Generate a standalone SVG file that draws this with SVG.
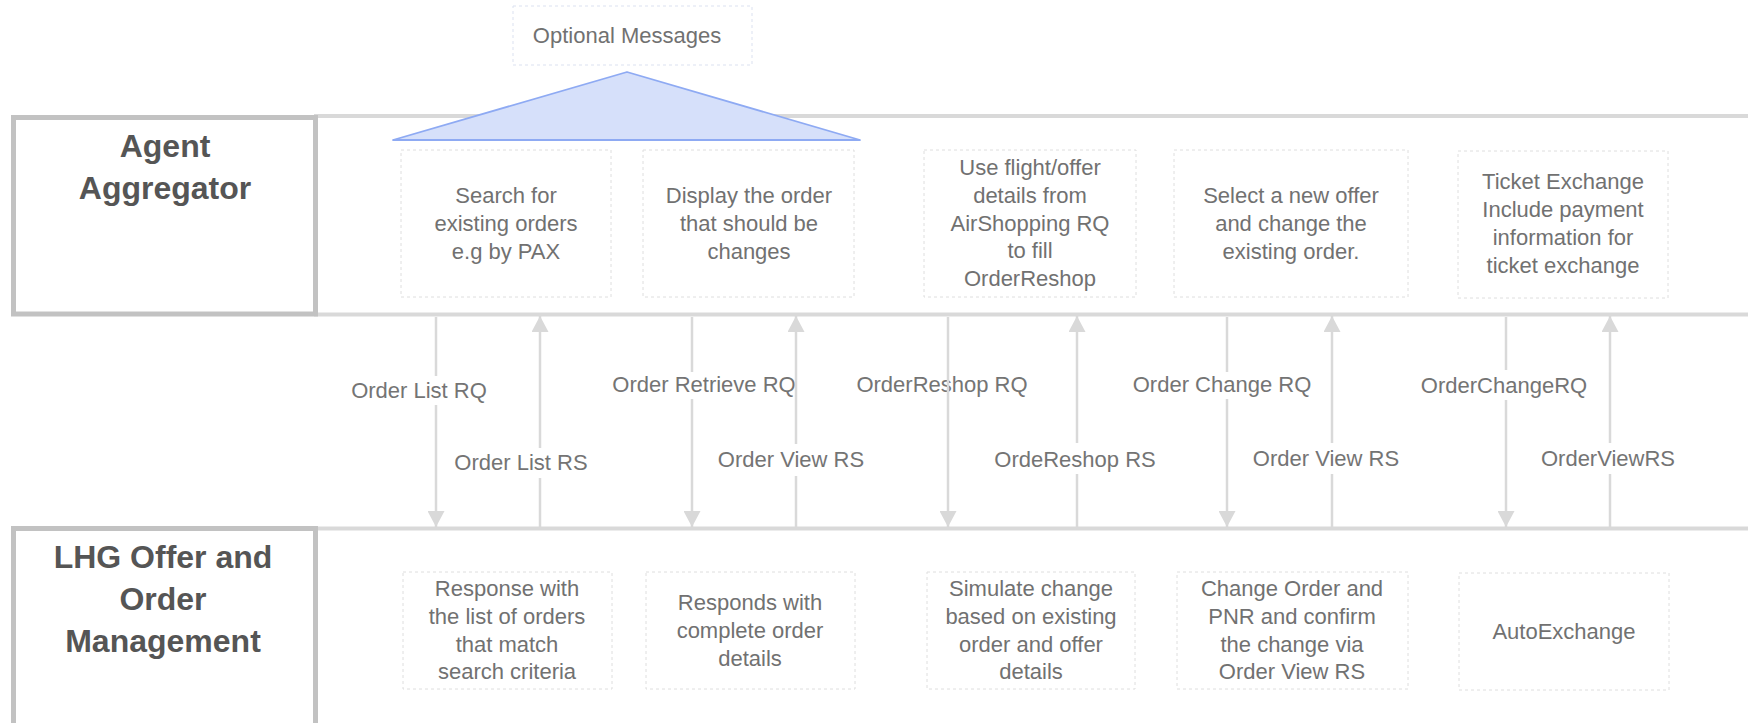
<svg xmlns="http://www.w3.org/2000/svg" width="1748" height="723" viewBox="0 0 1748 723">
<defs>
<style>
.lane{fill:#ffffff;stroke:#d9d9d9;stroke-width:4}
.hdr{fill:#ffffff;stroke:#c2c2c2;stroke-width:5}
.hdrtxt{font-family:"Liberation Sans",Arial,sans-serif;font-size:32px;font-weight:bold;fill:#555555;text-anchor:middle}
.box{fill:#ffffff;stroke:#dedede;stroke-width:1;stroke-dasharray:3 3}
.obox{fill:#ffffff;stroke:#dbe1f0;stroke-width:1;stroke-dasharray:3 3}
.txt{font-family:"Liberation Sans",Arial,sans-serif;font-size:22px;fill:#717171;text-anchor:middle}
.lbl{font-family:"Liberation Sans",Arial,sans-serif;font-size:22px;fill:#747474;text-anchor:middle}
.conn{stroke:#d9d9d9;stroke-width:2.5;fill:none}
.lblbg{fill:#ffffff}
</style>
<marker id="arr" viewBox="0 0 16 17" refX="16" refY="8.5" markerWidth="16" markerHeight="17" markerUnits="userSpaceOnUse" orient="auto">
<path d="M0,0 L16,8.5 L0,17 z" fill="#d9d9d9"/>
</marker>
</defs>
<rect width="1748" height="723" fill="#ffffff"/>

<g id="lanes">
<rect class="lane" x="316" y="116" width="1500" height="198.5"/>
<rect class="lane" x="316" y="528.5" width="1500" height="300"/>
</g>

<g id="optional-messages">
<rect class="obox" x="513" y="6" width="239" height="59"/>
<text class="txt" x="627" y="43">Optional Messages</text>
<polygon points="627,72 393,140 860,140" fill="#d6e0fa" stroke="#8eaaf3" stroke-width="1.8" stroke-linejoin="round"/>
</g>

<g id="agent-aggregator">
<rect class="hdr" x="13.5" y="117.5" width="302" height="196.5"/>
<text class="hdrtxt" x="165" y="157">Agent</text>
<text class="hdrtxt" x="165" y="199">Aggregator</text>
</g>

<g id="lhg-oms">
<rect class="hdr" x="13.5" y="528.5" width="302" height="260"/>
<text class="hdrtxt" x="163" y="568">LHG Offer and</text>
<text class="hdrtxt" x="163" y="610">Order</text>
<text class="hdrtxt" x="163" y="652">Management</text>
</g>

<g id="a1">
<rect class="box" x="401" y="150" width="210" height="147"/>
<text class="txt" x="506" y="203">Search for</text>
<text class="txt" x="506" y="231">existing orders</text>
<text class="txt" x="506" y="259">e.g by PAX</text>
</g>
<g id="a2">
<rect class="box" x="643" y="150" width="211" height="147"/>
<text class="txt" x="749" y="203">Display the order</text>
<text class="txt" x="749" y="231">that should be</text>
<text class="txt" x="749" y="259">changes</text>
</g>
<g id="a3">
<rect class="box" x="924" y="150" width="212" height="147"/>
<text class="txt" x="1030" y="175">Use flight/offer</text>
<text class="txt" x="1030" y="203">details from</text>
<text class="txt" x="1030" y="231">AirShopping RQ</text>
<text class="txt" x="1030" y="258">to fill</text>
<text class="txt" x="1030" y="286">OrderReshop</text>
</g>
<g id="a4">
<rect class="box" x="1174" y="150" width="234" height="147"/>
<text class="txt" x="1291" y="203">Select a new offer</text>
<text class="txt" x="1291" y="231">and change the</text>
<text class="txt" x="1291" y="259">existing order.</text>
</g>
<g id="a5">
<rect class="box" x="1458" y="151" width="210" height="147"/>
<text class="txt" x="1563" y="189">Ticket Exchange</text>
<text class="txt" x="1563" y="217">Include payment</text>
<text class="txt" x="1563" y="245">information for</text>
<text class="txt" x="1563" y="273">ticket exchange</text>
</g>

<g id="b1">
<rect class="box" x="403" y="572" width="209" height="117"/>
<text class="txt" x="507" y="596">Response with</text>
<text class="txt" x="507" y="624">the list of orders</text>
<text class="txt" x="507" y="652">that match</text>
<text class="txt" x="507" y="679">search criteria</text>
</g>
<g id="b2">
<rect class="box" x="646" y="572" width="209" height="117"/>
<text class="txt" x="750" y="610">Responds with</text>
<text class="txt" x="750" y="638">complete order</text>
<text class="txt" x="750" y="666">details</text>
</g>
<g id="b3">
<rect class="box" x="927" y="572" width="208" height="117"/>
<text class="txt" x="1031" y="596">Simulate change</text>
<text class="txt" x="1031" y="624">based on existing</text>
<text class="txt" x="1031" y="652">order and offer</text>
<text class="txt" x="1031" y="679">details</text>
</g>
<g id="b4">
<rect class="box" x="1177" y="572" width="231" height="117"/>
<text class="txt" x="1292" y="596">Change Order and</text>
<text class="txt" x="1292" y="624">PNR and confirm</text>
<text class="txt" x="1292" y="652">the change via</text>
<text class="txt" x="1292" y="679">Order View RS</text>
</g>
<g id="b5">
<rect class="box" x="1459" y="573" width="210" height="117"/>
<text class="txt" x="1564" y="639">AutoExchange</text>
</g>

<g id="connectors">
<g id="c1">
<line class="conn" x1="436" y1="317" x2="436" y2="527" marker-end="url(#arr)"/>
<rect class="lblbg" x="350" y="376" width="138" height="29"/>
<text class="lbl" x="419" y="398">Order List RQ</text>
</g>
<g id="c2">
<line class="conn" x1="540" y1="527" x2="540" y2="316" marker-end="url(#arr)"/>
<rect class="lblbg" x="453" y="448" width="136" height="30"/>
<text class="lbl" x="521" y="470">Order List RS</text>
</g>
<g id="c3">
<line class="conn" x1="692" y1="317" x2="692" y2="527" marker-end="url(#arr)"/>
<rect class="lblbg" x="611" y="372" width="186" height="27"/>
<text class="lbl" x="704" y="392">Order Retrieve RQ</text>
</g>
<g id="c4">
<line class="conn" x1="796" y1="527" x2="796" y2="316" marker-end="url(#arr)"/>
<rect class="lblbg" x="717" y="444" width="148" height="32"/>
<text class="lbl" x="791" y="467">Order View RS</text>
</g>
<g id="c5">
<text class="lbl" x="942" y="392">OrderReshop RQ</text>
<line class="conn" x1="948" y1="317" x2="948" y2="527" marker-end="url(#arr)"/>
</g>
<g id="c6">
<line class="conn" x1="1077" y1="527" x2="1077" y2="316" marker-end="url(#arr)"/>
<rect class="lblbg" x="995" y="443" width="160" height="31"/>
<text class="lbl" x="1075" y="467">OrdeReshop RS</text>
</g>
<g id="c7">
<line class="conn" x1="1227" y1="317" x2="1227" y2="527" marker-end="url(#arr)"/>
<rect class="lblbg" x="1133" y="372" width="178" height="27"/>
<text class="lbl" x="1222" y="392">Order Change RQ</text>
</g>
<g id="c8">
<line class="conn" x1="1332" y1="527" x2="1332" y2="316" marker-end="url(#arr)"/>
<rect class="lblbg" x="1252" y="443" width="148" height="31"/>
<text class="lbl" x="1326" y="466">Order View RS</text>
</g>
<g id="c9">
<line class="conn" x1="1506" y1="317" x2="1506" y2="527" marker-end="url(#arr)"/>
<rect class="lblbg" x="1420" y="370" width="167" height="30"/>
<text class="lbl" x="1504" y="393">OrderChangeRQ</text>
</g>
<g id="c10">
<line class="conn" x1="1610" y1="527" x2="1610" y2="316" marker-end="url(#arr)"/>
<rect class="lblbg" x="1540" y="443" width="136" height="31"/>
<text class="lbl" x="1608" y="466">OrderViewRS</text>
</g>
</g>
</svg>
